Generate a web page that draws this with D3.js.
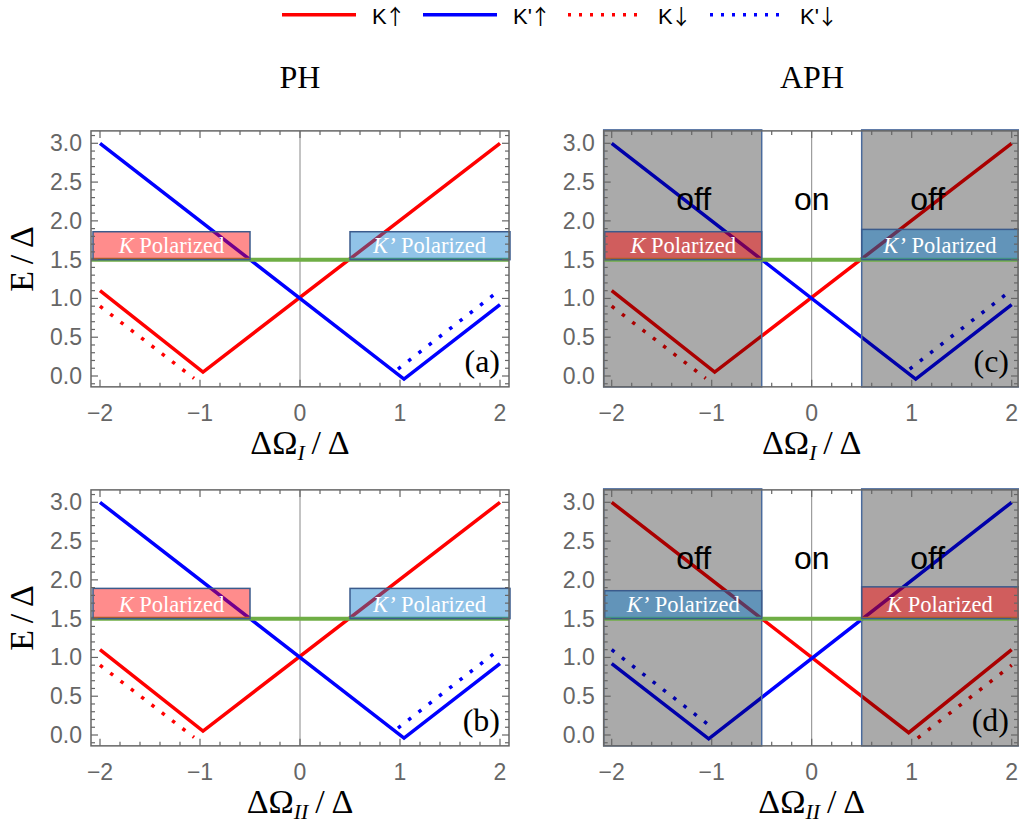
<!DOCTYPE html>
<html>
<head>
<meta charset="utf-8">
<script src="https://cdn.jsdelivr.net/npm/d3@7"></script>
<style>
  body { margin: 0; background: #fff; }
  text { font-family: "Liberation Serif", "Times New Roman", serif; }
  .sans { font-family: "Liberation Sans", Arial, sans-serif; }
  .arrow { font-family: "Noto Sans CJK JP", "DejaVu Sans", sans-serif; }
</style>
</head>
<body>
<svg id="fig"></svg>
<script>
// tick values
const xTicks = [-2, -1, 0, 1, 2]
const yTicks = [0, 0.5, 1, 1.5, 2, 2.5, 3]

// panels (a), (b), (c): K up / K' up solid, K down / K' down dotted
const kUpA = [[-2, 1.1], [-0.97, 0.05], [2, 3]]
const kPrimeUpA = [[-2, 3], [1.04, -0.04], [2, 0.92]]
const kDownA = [[-2, 0.9], [-1.06, -0.03]]
const kPrimeDownA = [[0.98, 0.09], [2, 1.11]]

// panel (d)
const kUpD = [[-2, 3], [0.97, 0.03], [2, 1.1]]
const kPrimeUpD = [[-2, 0.92], [-1.03, -0.05], [2, 3]]
const kDownD = [[1.06, -0.04], [2, 0.9]]
const kPrimeDownD = [[-2, 1.1], [-1.02, 0.12]]

// threshold line and polarized boxes (top value of each box)
const threshold = 1.5
const boxTopA = [1.86, 1.86]
const boxTopB = [1.89, 1.89]
const boxTopC = [1.86, 1.89]
const boxTopD = [1.86, 1.91]

const legendNames = ["K", "K'", "K", "K'"]
const legendArrows = ["\u2191", "\u2191", "\u2193", "\u2193"]

const W = 1019, H = 826
const RED = "#ff0000", BLUE = "#0000ff", GREEN = "#6fae45"
const KFILL = "#ff0000", KPFILL = "#0a7acc"

const svg = d3.select("#fig").attr("width", W).attr("height", H)

// ---- legend
const legendX = [282, 423, 568, 710]
const legendColors = [RED, BLUE, RED, BLUE]
const legendDotted = [false, false, true, true]
legendNames.forEach((lab, i) => {
  svg.append("line")
    .attr("x1", legendX[i]).attr("x2", legendX[i] + 74)
    .attr("y1", 14.7).attr("y2", 14.7)
    .attr("stroke", legendColors[i]).attr("stroke-width", 3.5)
    .attr("stroke-dasharray", legendDotted[i] ? "3,8" : null)
  const t = svg.append("text").attr("class", "sans")
    .attr("x", legendX[i] + 90).attr("y", 23.5)
    .attr("font-size", 22).attr("fill", "#000")
  t.append("tspan").text(lab)
  t.append("tspan").attr("class", "arrow").attr("font-size", 21).attr("dx", -2).text(legendArrows[i])
})

// ---- column titles
svg.append("text").attr("x", 300).attr("y", 88).attr("text-anchor", "middle")
  .attr("font-size", 32).text("PH")
svg.append("text").attr("x", 812).attr("y", 88).attr("text-anchor", "middle")
  .attr("font-size", 32).text("APH")

function panel(p) {
  const x = d3.scaleLinear().domain([-2, 2]).range([p.left, p.left + 400])
  const y = d3.scaleLinear().domain([0, 3]).range([p.zero, p.zero - 232.7])
  const g = svg.append("g")
  const fx0 = x(p.xf[0]), fx1 = x(p.xf[1])
  const fy0 = y(-0.14), fy1 = y(3.16)
  const line = d3.line().x(d => x(d[0])).y(d => y(d[1]))

  // zero line
  g.append("line").attr("x1", x(0)).attr("x2", x(0)).attr("y1", fy0).attr("y2", fy1)
    .attr("stroke", "#888").attr("stroke-width", 1)

  // curves
  const curves = [
    [p.kUp, RED, false], [p.kpUp, BLUE, false],
    [p.kDown, RED, true], [p.kpDown, BLUE, true]
  ]
  curves.forEach(([d, c, dotted]) => {
    g.append("path").attr("d", line(d)).attr("fill", "none")
      .attr("stroke", c).attr("stroke-width", 3.5)
      .attr("stroke-dasharray", dotted ? "3.5,9.5" : null)
  })

  // gray "off" regions
  if (p.gray) {
    const regions = [[fx0, x(-0.5)], [x(0.5), x(2.1)]]
    regions.forEach(([a, b]) => {
      g.append("rect").attr("x", a).attr("y", fy1 - 1).attr("width", b - a).attr("height", fy0 - fy1 + 1)
        .attr("fill", "#000").attr("fill-opacity", 0.333)
        .attr("stroke", "#4a6a9c").attr("stroke-width", 1.5)
    })
  }

  // threshold line
  g.append("line").attr("x1", fx0).attr("x2", fx1)
    .attr("y1", y(threshold)).attr("y2", y(threshold))
    .attr("stroke", GREEN).attr("stroke-width", 4)

  // polarized boxes
  const boxes = [
    { x0: -2.07, x1: -0.5, top: p.boxTop[0], prime: p.leftPrime },
    { x0: 0.5, x1: 2.1, top: p.boxTop[1], prime: !p.leftPrime }
  ]
  boxes.forEach(b => {
    const bx0 = x(b.x0), bx1 = x(b.x1)
    g.append("rect").attr("x", bx0).attr("y", y(b.top))
      .attr("width", bx1 - bx0).attr("height", y(threshold) - y(b.top))
      .attr("fill", b.prime ? KPFILL : KFILL).attr("fill-opacity", 0.45)
      .attr("stroke", "#3b5b8c").attr("stroke-width", 1.5)
    const cx = (bx0 + Math.min(bx1, fx1)) / 2
    const t = g.append("text").attr("x", cx).attr("y", y(threshold) - 6.5)
      .attr("text-anchor", "middle").attr("font-size", 22.5).attr("fill", "#fff")
    t.append("tspan").attr("font-style", "italic").text(b.prime ? "K\u2019" : "K")
    t.append("tspan").text(" Polarized")
  })

  // on / off labels
  if (p.gray) {
    const labels = [[-1.18, "off"], [0, "on"], [1.16, "off"]]
    labels.forEach(([lx, s]) => {
      g.append("text").attr("class", "sans").attr("x", x(lx)).attr("y", y(2.14))
        .attr("text-anchor", "middle").attr("font-size", 32).attr("fill", "#000").text(s)
    })
  }

  // frame and ticks
  const fr = "#666"
  g.append("rect").attr("x", fx0).attr("y", fy1).attr("width", fx1 - fx0).attr("height", fy0 - fy1)
    .attr("fill", "none").attr("stroke", fr).attr("stroke-width", 1.5)
  const xMinor = d3.range(-20, 21, 2).map(v => v / 10).filter(v => v >= p.xf[0] && v <= p.xf[1])
  xMinor.forEach(v => {
    const L = Number.isInteger(v) ? 7 : 4
    g.append("line").attr("x1", x(v)).attr("x2", x(v)).attr("y1", fy0).attr("y2", fy0 - L)
      .attr("stroke", fr).attr("stroke-width", 1.2)
    g.append("line").attr("x1", x(v)).attr("x2", x(v)).attr("y1", fy1).attr("y2", fy1 + L)
      .attr("stroke", fr).attr("stroke-width", 1.2)
  })
  const yMinor = d3.range(-1, 32).map(v => v / 10)
  yMinor.forEach(v => {
    const L = Math.round(v * 10) % 5 === 0 ? 7 : 4
    g.append("line").attr("x1", fx0).attr("x2", fx0 + L).attr("y1", y(v)).attr("y2", y(v))
      .attr("stroke", fr).attr("stroke-width", 1.2)
    g.append("line").attr("x1", fx1).attr("x2", fx1 - L).attr("y1", y(v)).attr("y2", y(v))
      .attr("stroke", fr).attr("stroke-width", 1.2)
  })

  // tick labels
  xTicks.forEach(v => {
    g.append("text").attr("class", "sans").attr("x", x(v)).attr("y", fy0 + 34)
      .attr("text-anchor", "middle").attr("font-size", 23).attr("fill", "#666")
      .text(v < 0 ? "\u2212" + Math.abs(v) : v)
  })
  yTicks.forEach(v => {
    g.append("text").attr("class", "sans").attr("x", fx0 - 9).attr("y", y(v) + 8)
      .attr("text-anchor", "end").attr("font-size", 23).attr("fill", "#666")
      .text(v.toFixed(1))
  })

  // axis labels
  const xl = g.append("text").attr("x", x(0)).attr("y", p.zero + 78)
    .attr("text-anchor", "middle").attr("font-size", 34).attr("fill", "#000")
  xl.append("tspan").text("\u0394\u03A9")
  xl.append("tspan").attr("font-size", 22).attr("font-style", "italic").attr("dy", 6).text(p.sub)
  xl.append("tspan").attr("dy", -6).text("\u2009/\u2009\u0394")

  if (p.yLabel) {
    g.append("text")
      .attr("transform", `translate(33,${(fy0 + fy1) / 2}) rotate(-90)`)
      .attr("text-anchor", "middle").attr("font-size", 34).attr("fill", "#000")
      .text("E\u2009/\u2009\u0394")
  }

  // panel letter
  g.append("text").attr("x", fx1 - 9).attr("y", y(0) - 4)
    .attr("text-anchor", "end").attr("font-size", 32).attr("fill", "#000")
    .text("(" + p.letter + ")")
}

panel({ letter: "a", left: 100, zero: 376, xf: [-2.09, 2.09], kUp: kUpA, kpUp: kPrimeUpA,
  kDown: kDownA, kpDown: kPrimeDownA, gray: false, boxTop: boxTopA, leftPrime: false, sub: "I", yLabel: true })
panel({ letter: "b", left: 100, zero: 735, xf: [-2.09, 2.09], kUp: kUpA, kpUp: kPrimeUpA,
  kDown: kDownA, kpDown: kPrimeDownA, gray: false, boxTop: boxTopB, leftPrime: false, sub: "II", yLabel: true })
panel({ letter: "c", left: 611.7, zero: 376, xf: [-2.08, 2.063], kUp: kUpA, kpUp: kPrimeUpA,
  kDown: kDownA, kpDown: kPrimeDownA, gray: true, boxTop: boxTopC, leftPrime: false, sub: "I", yLabel: false })
panel({ letter: "d", left: 611.7, zero: 735, xf: [-2.08, 2.063], kUp: kUpD, kpUp: kPrimeUpD,
  kDown: kDownD, kpDown: kPrimeDownD, gray: true, boxTop: boxTopD, leftPrime: true, sub: "II", yLabel: false })
</script>
</body>
</html>
